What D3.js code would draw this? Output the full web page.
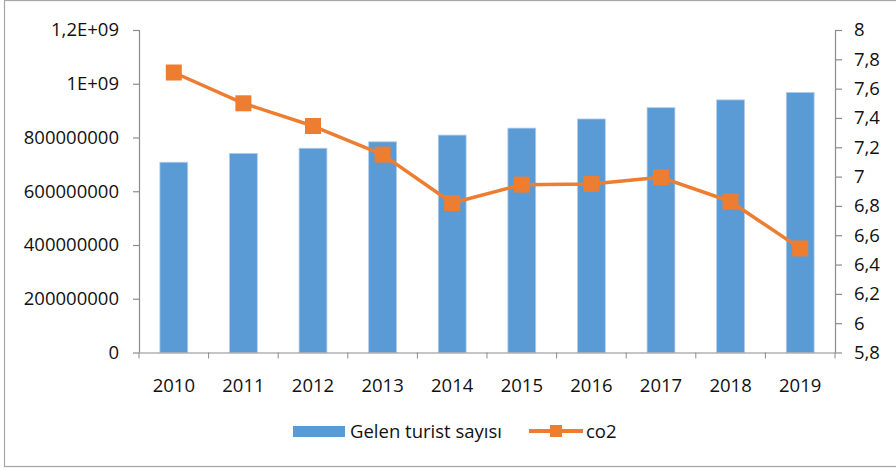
<!DOCTYPE html>
<html><head><meta charset="utf-8">
<script src="https://cdn.jsdelivr.net/npm/d3@7"></script>
<style>body{margin:0;background:#fff}svg{display:block}text{font-family:"Open Sans",sans-serif;fill:#111}</style>
</head><body><svg id="c" width="896" height="469"></svg>
<script>
const years = ["2010","2011","2012","2013","2014","2015","2016","2017","2018","2019"];
const tourists = [708e6, 741e6, 760e6, 784e6, 809e6, 835e6, 869e6, 911e6, 940e6, 968e6];
const co2 = [7.71, 7.50, 7.345, 7.15, 6.82, 6.945, 6.95, 6.995, 6.83, 6.51];
const leftTicks = [0, 2e8, 4e8, 6e8, 8e8, 1e9, 1.2e9];
const leftLabels = ["0","200000000","400000000","600000000","800000000","1E+09","1,2E+09"];
const rightTicks = [5.8,6,6.2,6.4,6.6,6.8,7,7.2,7.4,7.6,7.8,8];
const seriesNames = ["Gelen turist sayısı","co2"];

const svg = d3.select("#c");
const L = 139, R = 835, T = 30, B = 352.5;
const fs = "18.5px";
const axisColor = "#8c8c8c";

svg.append("rect").attr("x",4.5).attr("y",0.5).attr("width",900).attr("height",466)
  .attr("fill","#fff").attr("stroke","#a6a6a6").attr("stroke-width",1.2);

const x = d3.scaleBand().domain(years).range([L,R]).paddingInner(0.6).paddingOuter(0.3);
const xb = d3.scaleBand().domain(years).range([L,R]);
const yL = d3.scaleLinear().domain([0,1.2e9]).range([B,T]);
const yR = d3.scaleLinear().domain([5.8,8]).range([B,T]);

// bars
svg.append("g").selectAll("rect").data(tourists).join("rect")
  .attr("x",(d,i)=>x(years[i])).attr("width",x.bandwidth())
  .attr("y",d=>yL(d)).attr("height",d=>B-yL(d))
  .attr("fill","#5b9bd5").attr("stroke","#b4cdea").attr("stroke-width",0.8);

// left axis
const gl = svg.append("g").attr("transform",`translate(${L},0)`)
  .call(d3.axisLeft(yL).tickValues(leftTicks).tickFormat((d,i)=>leftLabels[i]).tickSize(6).tickPadding(14));
// right axis
const gr = svg.append("g").attr("transform",`translate(${R},0)`)
  .call(d3.axisRight(yR).tickValues(rightTicks).tickFormat(d=>d3.format(".1~f")(d).replace(".",",")).tickSize(7).tickPadding(12));
// bottom axis
const gb = svg.append("g").attr("transform",`translate(0,${B})`)
  .call(d3.axisBottom(xb).tickSize(0).tickPadding(26));
// category boundary ticks
svg.append("g").selectAll("line").data(d3.range(years.length+1)).join("line")
  .attr("x1",i=>L+i*xb.step()).attr("x2",i=>L+i*xb.step())
  .attr("y1",B).attr("y2",B+6).attr("stroke",axisColor);

[gl,gr,gb].forEach(g=>{
  g.selectAll("path,line").attr("stroke",axisColor).attr("stroke-width",1.2);
  g.selectAll("text").style("font-size",fs).style("font-family","'Open Sans',sans-serif").attr("fill","#111");
});
gb.select(".domain").attr("d",`M${L},0.5H${R}`);
gl.select(".domain").attr("d",`M0.5,${T}V${B}`);
gr.select(".domain").attr("d",`M0.5,${T}V${B}`);

// line
const line = d3.line().x((d,i)=>xb(years[i])+xb.bandwidth()/2).y(d=>yR(d));
svg.append("path").datum(co2).attr("d",line).attr("fill","none")
  .attr("stroke","#ed7d31").attr("stroke-width",3.5).attr("stroke-linejoin","round");
const ms = 16;
svg.append("g").selectAll("rect").data(co2).join("rect")
  .attr("x",(d,i)=>xb(years[i])+xb.bandwidth()/2-ms/2).attr("y",d=>yR(d)-ms/2)
  .attr("width",ms).attr("height",ms).attr("fill","#ed7d31");

// legend
const lg = svg.append("g");
lg.append("rect").attr("x",293).attr("y",426).attr("width",52).attr("height",11).attr("fill","#5b9bd5");
lg.append("text").attr("x",350).attr("y",438).style("font-size",fs).text(seriesNames[0]);
lg.append("line").attr("x1",529).attr("x2",583).attr("y1",431).attr("y2",431).attr("stroke","#ed7d31").attr("stroke-width",4);
lg.append("rect").attr("x",550).attr("y",425).attr("width",12).attr("height",12).attr("fill","#ed7d31");
lg.append("text").attr("x",586).attr("y",438).style("font-size",fs).text(seriesNames[1]);
</script></body></html>
